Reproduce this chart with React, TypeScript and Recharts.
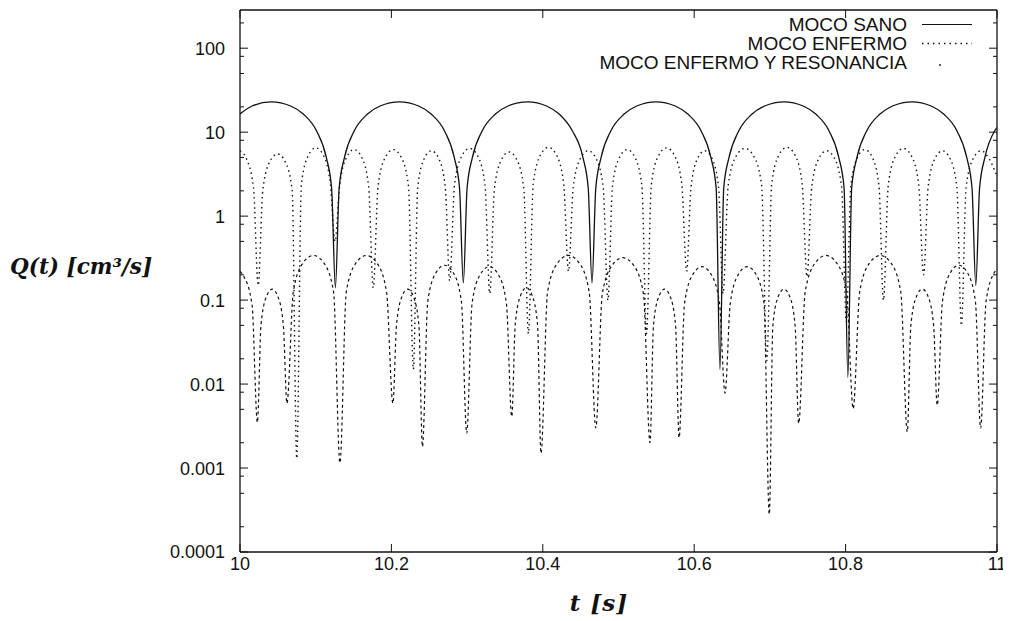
import React from 'react';
import { LineChart, Line, XAxis, YAxis, Legend } from 'recharts';

// ---------- data (t [s], Q [cm^3/s]) ----------
const seriesNames = ['MOCO SANO', 'MOCO ENFERMO', 'MOCO ENFERMO Y RESONANCIA'];

const sanoPoints: [number, number][] = [
  [10.000, 16.5], [10.016, 20.5], [10.041, 23], [10.067, 20.5], [10.084, 16.3], [10.101, 10.4], [10.114, 5.0], [10.121, 2.16], [10.126, 0.14],
  [10.131, 2.16], [10.138, 5.0], [10.151, 10.4], [10.168, 16.3], [10.185, 20.5], [10.2105, 23], [10.236, 20.5], [10.253, 16.3], [10.270, 10.4], [10.283, 5.0], [10.290, 2.16], [10.295, 0.16],
  [10.300, 2.16], [10.307, 5.0], [10.320, 10.4], [10.337, 16.3], [10.354, 20.5], [10.380, 23], [10.405, 20.5], [10.422, 16.3], [10.439, 10.4], [10.453, 5.0], [10.460, 2.16], [10.465, 0.16],
  [10.470, 2.16], [10.477, 5.0], [10.490, 10.4], [10.507, 16.3], [10.524, 20.5], [10.5495, 23], [10.575, 20.5], [10.592, 16.3], [10.609, 10.4], [10.622, 5.0], [10.629, 2.16], [10.634, 0.015],
  [10.639, 2.16], [10.646, 5.0], [10.659, 10.4], [10.676, 16.3], [10.693, 20.5], [10.7185, 23], [10.744, 20.5], [10.761, 16.3], [10.778, 10.4], [10.791, 5.0], [10.798, 2.16], [10.803, 0.012],
  [10.808, 2.16], [10.815, 5.0], [10.828, 10.4], [10.845, 16.3], [10.862, 20.5], [10.8875, 23], [10.913, 20.5], [10.930, 16.3], [10.947, 10.4], [10.960, 5.0], [10.967, 2.16], [10.972, 0.15],
  [10.977, 2.16], [10.984, 5.0], [10.997, 10.4], [11.000, 11.4],
];

const enfermoPoints: [number, number][] = [
  [10.000, 6.0], [10.0084, 4.85], [10.0178, 2.2], [10.024, 0.15],
  [10.0301, 2.02], [10.0393, 4.45], [10.0495, 5.5], [10.0597, 4.45], [10.0689, 2.02], [10.075, 0.0013],
  [10.0811, 2.4], [10.0902, 5.26], [10.1003, 6.5], [10.1104, 5.26], [10.1194, 2.4], [10.1255, 0.5],
  [10.1316, 2.28], [10.1407, 5.0], [10.1508, 6.2], [10.1609, 5.0], [10.1699, 2.28], [10.176, 0.14],
  [10.1824, 2.28], [10.1919, 5.0], [10.2025, 6.2], [10.2131, 5.0], [10.2226, 2.28], [10.229, 0.015],
  [10.2348, 2.2], [10.2434, 4.85], [10.253, 6.0], [10.2626, 4.85], [10.2712, 2.2], [10.277, 0.17],
  [10.2834, 2.36], [10.2929, 5.18], [10.3035, 6.4], [10.3141, 5.18], [10.3236, 2.36], [10.330, 0.12],
  [10.3361, 2.13], [10.3453, 4.69], [10.3555, 5.8], [10.3657, 4.69], [10.3749, 2.13], [10.381, 0.04],
  [10.3874, 2.43], [10.3969, 5.34], [10.4075, 6.6], [10.4181, 5.34], [10.4276, 2.43], [10.434, 0.22],
  [10.4402, 2.2], [10.4496, 4.85], [10.460, 6.0], [10.4704, 4.85], [10.4798, 2.2], [10.486, 0.1],
  [10.4921, 2.28], [10.5013, 5.0], [10.5115, 6.2], [10.5217, 5.0], [10.5309, 2.28], [10.537, 0.04],
  [10.5434, 2.4], [10.5529, 5.26], [10.5635, 6.5], [10.5741, 5.26], [10.5836, 2.4], [10.590, 0.22],
  [10.5958, 2.2], [10.6044, 4.85], [10.614, 6.0], [10.6236, 4.85], [10.6322, 2.2], [10.638, 0.12],
  [10.645, 2.36], [10.6554, 5.18], [10.667, 6.4], [10.6786, 5.18], [10.689, 2.36], [10.696, 0.019],
  [10.7024, 2.43], [10.7119, 5.34], [10.7225, 6.6], [10.7331, 5.34], [10.7426, 2.43], [10.749, 0.19],
  [10.7552, 2.2], [10.7646, 4.85], [10.775, 6.0], [10.7854, 4.85], [10.7948, 2.2], [10.801, 0.055],
  [10.8069, 2.28], [10.8157, 5.0], [10.8255, 6.2], [10.8353, 5.0], [10.8441, 2.28], [10.850, 0.1],
  [10.8564, 2.36], [10.8659, 5.18], [10.8765, 6.4], [10.8871, 5.18], [10.8966, 2.36], [10.903, 0.2],
  [10.909, 2.2], [10.918, 4.85], [10.928, 6.0], [10.938, 4.85], [10.947, 2.2], [10.953, 0.05],
  [10.9592, 2.2], [10.9686, 4.85], [10.979, 6.0], [10.9894, 4.85], [11.000, 3.0],
];

const resonanciaPoints: [number, number][] = [
  [10.000, 0.22], [10.0053, 0.19], [10.0159, 0.088], [10.023, 0.0035],
  [10.0277, 0.0497], [10.0347, 0.109], [10.0425, 0.135], [10.0503, 0.109], [10.0573, 0.0497], [10.062, 0.0059],
  [10.0704, 0.125], [10.083, 0.275], [10.097, 0.34], [10.111, 0.275], [10.1236, 0.125], [10.132, 0.00115],
  [10.1404, 0.125], [10.153, 0.275], [10.167, 0.34], [10.181, 0.275], [10.1936, 0.125], [10.202, 0.0059],
  [10.2067, 0.0497], [10.2137, 0.109], [10.2215, 0.135], [10.2293, 0.109], [10.2363, 0.0497], [10.241, 0.0018],
  [10.248, 0.0957], [10.2586, 0.21], [10.2703, 0.26], [10.282, 0.21], [10.2925, 0.0957], [10.2995, 0.0026],
  [10.3066, 0.092], [10.3174, 0.202], [10.3293, 0.25], [10.3412, 0.202], [10.3519, 0.092], [10.359, 0.0041],
  [10.3636, 0.0515], [10.3706, 0.113], [10.3783, 0.14], [10.386, 0.113], [10.393, 0.0515], [10.3976, 0.0015],
  [10.4063, 0.125], [10.4193, 0.275], [10.4338, 0.34], [10.4483, 0.275], [10.4613, 0.125], [10.470, 0.003],
  [10.4786, 0.118], [10.4915, 0.259], [10.5058, 0.32], [10.5201, 0.259], [10.533, 0.118], [10.5416, 0.002],
  [10.5462, 0.0497], [10.5531, 0.109], [10.5608, 0.135], [10.5685, 0.109], [10.5754, 0.0497], [10.580, 0.0023],
  [10.5873, 0.092], [10.5982, 0.202], [10.6104, 0.25], [10.6225, 0.202], [10.6334, 0.092], [10.6407, 0.0078],
  [10.6477, 0.092], [10.6583, 0.202], [10.670, 0.25], [10.6817, 0.202], [10.6922, 0.092], [10.6992, 0.00028],
  [10.7039, 0.0497], [10.7108, 0.109], [10.7186, 0.135], [10.7264, 0.109], [10.7333, 0.0497], [10.738, 0.0034],
  [10.7466, 0.125], [10.7596, 0.275], [10.774, 0.34], [10.7884, 0.275], [10.8014, 0.125], [10.810, 0.0051],
  [10.8186, 0.125], [10.8315, 0.275], [10.8458, 0.34], [10.8601, 0.275], [10.8729, 0.125], [10.8815, 0.0027],
  [10.8862, 0.0497], [10.8934, 0.109], [10.9013, 0.135], [10.9092, 0.109], [10.9163, 0.0497], [10.921, 0.0056],
  [10.9279, 0.0957], [10.9382, 0.21], [10.9497, 0.26], [10.9612, 0.21], [10.9715, 0.0957], [10.9784, 0.003],
  [10.9855, 0.0957], [10.9961, 0.21], [11.000, 0.235],
];

const xTicks = [10, 10.2, 10.4, 10.6, 10.8, 11];
const xTickLabels = ['10', '10.2', '10.4', '10.6', '10.8', '11'];
const yMajorTicks = [0.0001, 0.001, 0.01, 0.1, 1, 10, 100];
const yTickLabels = ['0.0001', '0.001', '0.01', '0.1', '1', '10', '100'];
const yMinorTicks = [
  0.0002, 0.0005, 0.0008, 0.002, 0.005, 0.008, 0.02, 0.05, 0.08,
  0.2, 0.5, 0.8, 2, 5, 8, 20, 50, 80, 200,
];
const X_DOMAIN: [number, number] = [10, 11];
const Y_DOMAIN: [number, number] = [0.0001, 285];

// ---------- styling ----------
const FONT = '"Liberation Sans", Arial, Helvetica, sans-serif';
const TITLE_FONT = '"DejaVu Serif", serif';
const INK = '#111';
const yAllTicks = [...yMajorTicks, ...yMinorTicks];

const toRows = (pts: [number, number][]) => pts.map(([t, q]) => ({ t, q }));
const sanoData = toRows(sanoPoints);
const enfermoData = toRows(enfermoPoints);
const resonanciaData = toRows(resonanciaPoints);

const LEFT_MARGIN = 15;
const BOTTOM_MARGIN = 5;

const LeftTick = (props: any) => {
  const { x, y, payload } = props;
  const idx = yMajorTicks.indexOf(payload.value);
  const ax = x + LEFT_MARGIN;
  const len = idx >= 0 ? 8 : 4;
  return (
    <g>
      <line x1={ax} x2={ax + len} y1={y} y2={y} stroke={INK} strokeWidth={1} />
      {idx >= 0 && (
        <text x={x} y={y} dy="0.36em" textAnchor="end" fontFamily={FONT} fontSize={18} fill={INK}>
          {yTickLabels[idx]}
        </text>
      )}
    </g>
  );
};

const RightTick = (props: any) => {
  const { x, y, payload } = props;
  const len = yMajorTicks.indexOf(payload.value) >= 0 ? 8 : 4;
  return <line x1={x} x2={x - len} y1={y} y2={y} stroke={INK} strokeWidth={1} />;
};

const BottomTick = (props: any) => {
  const { x, y, payload } = props;
  const idx = xTicks.indexOf(payload.value);
  const ay = y - BOTTOM_MARGIN;
  return (
    <g>
      <line x1={x} x2={x} y1={ay} y2={ay - 8} stroke={INK} strokeWidth={1} />
      <text x={x} y={y} dy="0.71em" textAnchor="middle" fontFamily={FONT} fontSize={18} fill={INK}>
        {xTickLabels[idx]}
      </text>
    </g>
  );
};

const TopTick = (props: any) => {
  const { x, y } = props;
  return <line x1={x} x2={x} y1={y} y2={y + 8} stroke={INK} strokeWidth={1} />;
};

const YTitle = () => (
  <text x={2} y={258} dy="0.36em" fontFamily={TITLE_FONT} fontWeight="bold" fontStyle="italic" fontSize={21.5} fill={INK}>
    Q(t) [cm³/s]
  </text>
);

const XTitle = () => (
  <text x={591} y={595} dy="0.36em" textAnchor="middle" fontFamily={TITLE_FONT} fontWeight="bold" fontStyle="italic" fontSize={23} letterSpacing={1} fill={INK}>
    t [s]
  </text>
);

const LegendBox = () => (
  <div style={{ width: 400, fontFamily: FONT, fontSize: 19, color: INK }}>
    {seriesNames.map((name, i) => (
      <div key={name} style={{ display: 'flex', justifyContent: 'flex-end', alignItems: 'center', height: 19 }}>
        <span style={{ lineHeight: '19px', whiteSpace: 'nowrap' }}>{name}</span>
        <svg width={50} height={19} style={{ marginLeft: 15, display: 'block' }}>
          {i === 0 && <line x1={0} x2={50} y1={9.5} y2={9.5} stroke={INK} strokeWidth={1.2} />}
          {i === 1 && <line x1={0} x2={50} y1={9.5} y2={9.5} stroke={INK} strokeWidth={1.3} strokeDasharray="1.5 4" />}
          {i === 2 && <circle cx={18} cy={12} r={0.9} fill={INK} />}
        </svg>
      </div>
    ))}
  </div>
);

export default function App() {
  return (
    <div style={{ width: 1003, height: 613, fontFamily: FONT }}>
      <LineChart width={1003} height={613} margin={{ top: 0, right: 0, bottom: 0, left: 0 }}>
        <XAxis
          xAxisId="b"
          dataKey="t"
          type="number"
          domain={X_DOMAIN}
          allowDataOverflow
          ticks={xTicks}
          interval={0}
          height={69}
          tickSize={0}
          tickMargin={BOTTOM_MARGIN}
          tickLine={false}
          axisLine={{ stroke: INK, strokeWidth: 1.3 }}
          tick={BottomTick}
          label={XTitle}
        />
        <XAxis
          xAxisId="t"
          orientation="top"
          dataKey="t"
          type="number"
          domain={X_DOMAIN}
          allowDataOverflow
          ticks={xTicks}
          interval={0}
          height={2}
          tickSize={0}
          tickMargin={0}
          tickLine={false}
          axisLine={{ stroke: INK, strokeWidth: 1.3 }}
          tick={TopTick}
        />
        <YAxis
          yAxisId="l"
          type="number"
          scale="log"
          domain={Y_DOMAIN}
          allowDataOverflow
          ticks={yAllTicks}
          interval={0}
          width={232}
          tickSize={0}
          tickMargin={LEFT_MARGIN}
          tickLine={false}
          axisLine={{ stroke: INK, strokeWidth: 1.3 }}
          tick={LeftTick}
          label={YTitle}
        />
        <YAxis
          yAxisId="r"
          orientation="right"
          type="number"
          scale="log"
          domain={Y_DOMAIN}
          allowDataOverflow
          ticks={yAllTicks}
          interval={0}
          width={14}
          tickSize={0}
          tickMargin={0}
          tickLine={false}
          axisLine={{ stroke: INK, strokeWidth: 1.3 }}
          tick={RightTick}
        />
        <Legend
          layout="vertical"
          align="center"
          verticalAlign="middle"
          content={LegendBox}
          wrapperStyle={{ top: 7, left: 564, width: 400, height: 57 }}
        />
        <Line xAxisId="b" yAxisId="l" data={sanoData} dataKey="q" name={seriesNames[0]} type="monotone"
          stroke={INK} strokeWidth={1.3} dot={false} activeDot={false} isAnimationActive={false} />
        <Line xAxisId="b" yAxisId="l" data={enfermoData} dataKey="q" name={seriesNames[1]} type="monotone"
          stroke={INK} strokeWidth={1.4} strokeDasharray="1.5 3.5" dot={false} activeDot={false} isAnimationActive={false} />
        <Line xAxisId="b" yAxisId="l" data={resonanciaData} dataKey="q" name={seriesNames[2]} type="monotone"
          stroke={INK} strokeWidth={1.2} strokeDasharray="3 3" dot={false} activeDot={false} isAnimationActive={false} />
      </LineChart>
    </div>
  );
}
